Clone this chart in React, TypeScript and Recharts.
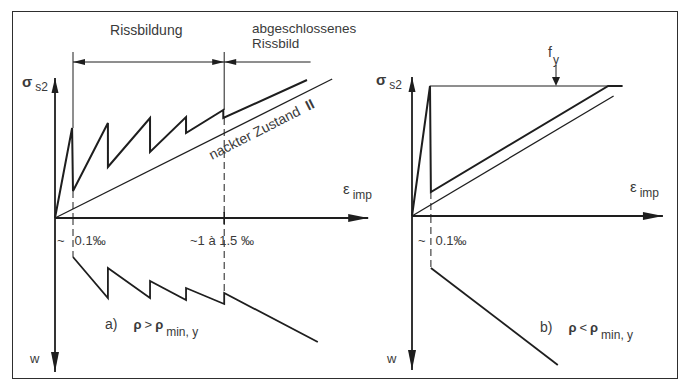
import React from "react";
import {
  Line,
  LineChart,
  ReferenceDot,
  ReferenceLine,
  XAxis,
  YAxis,
} from "recharts";

// a) rho > rho_min,y : steel stress during crack formation
const epsA = [0, 0.095, 0.1, 0.294, 0.294, 0.528, 0.528, 0.728, 0.728, 0.935, 0.935, 1.4];
const sigmaA = [0, 360, 108, 380, 204, 400, 264, 404, 340, 432, 400, 552];
const nakedEpsA = [0, 1.54];
const nakedSigmaA = [0, 556];
// crack width
const wEpsA = [0.1, 0.294, 0.294, 0.528, 0.528, 0.728, 0.728, 0.94, 0.94, 1.46];
const wA = [0.156, 0.32, 0.2, 0.32, 0.252, 0.328, 0.28, 0.344, 0.3, 0.496];
const crackStartA = 0.1;
const crackEndA = 0.94;
const ticksA = ["0.1‰", "~1 à 1.5 ‰"];

// b) rho < rho_min,y : steel yields at the first crack
const epsB = [0, 0.1, 0.105, 1.09, 1.17];
const sigmaB = [0, 520, 96, 520, 520];
const nakedEpsB = [0, 1.12];
const nakedSigmaB = [0, 480];
const wEpsB = [0.105, 0.81];
const wB = [0.208, 0.596];
const crackStartB = 0.105;
const fyB = 520;
const fyMarkEps = 0.8;
const tickB = "0.1‰";

const INK = "#1e1e1e";
const TEXT = "#3a3a3a";
const FONT = "'Liberation Sans', Arial, Helvetica, sans-serif";

const S_DOMAIN: [number, number] = [-640, 880];
const W_DOMAIN: [number, number] = [-0.88, 0.64];

const zip = (e: number[], v: number[], key: string) =>
  e.map((x, i) => ({ e: x, [key]: v[i] }));

type Pt = { cx?: number; cy?: number };

const arrow =
  (dir: "up" | "down" | "left" | "right", len: number, half: number) =>
  (p: Pt) => {
    const x = p.cx ?? 0;
    const y = p.cy ?? 0;
    let pts = "";
    if (dir === "up") pts = `${x},${y} ${x - half},${y + len} ${x + half},${y + len}`;
    if (dir === "down") pts = `${x},${y} ${x - half},${y - len} ${x + half},${y - len}`;
    if (dir === "left") pts = `${x},${y} ${x + len},${y - half} ${x + len},${y + half}`;
    if (dir === "right") pts = `${x},${y} ${x - len},${y - half} ${x - len},${y + half}`;
    return <polygon points={pts} fill={INK} />;
  };

const textAt =
  (node: React.ReactNode, size = 14, extra: React.SVGProps<SVGTextElement> = {}) =>
  (p: Pt) => (
    <text x={p.cx} y={p.cy} fontSize={size} fill={TEXT} fontFamily={FONT} {...extra}>
      {node}
    </text>
  );

const line = { stroke: INK, ifOverflow: "visible" as const };

const sigmaLabel = (
  <>
    <tspan fontWeight="bold" fontSize={15}>σ</tspan>
    <tspan dx={3} dy={4} fontSize={12}>s2</tspan>
  </>
);
const epsLabel = (
  <>
    <tspan fontSize={15}>ε</tspan>
    <tspan dx={3} dy={5} fontSize={12}>imp</tspan>
  </>
);
const rhoLabel = (tag: string, rel: string) => (
  <>
    <tspan>{tag}</tspan>
    <tspan dx={16} fontWeight="bold" fontSize={13}>ρ</tspan>
    <tspan dx={3} fontSize={13}>{rel}</tspan>
    <tspan dx={3} fontWeight="bold" fontSize={13}>ρ</tspan>
    <tspan dx={3} dy={7} fontSize={12}>min, y</tspan>
  </>
);
const tildeTick = (t: string) => (
  <>
    <tspan>~</tspan>
    <tspan dx={10}>{t}</tspan>
  </>
);

export default function App() {
  return (
    <div
      style={{
        position: "absolute",
        left: 0,
        top: 0,
        width: 681,
        height: 382,
        overflow: "hidden",
        background: "#fff",
      }}
    >
      <div
        style={{
          position: "absolute",
          left: 12,
          top: 11,
          width: 666,
          height: 368,
          border: "1.6px solid #2e2e2e",
          boxSizing: "border-box",
        }}
      />

      {/* a) */}
      <div style={{ position: "absolute", left: 1, top: -2 }}>
        <LineChart width={378} height={380} margin={{ top: 0, right: 0, bottom: 0, left: 0 }}>
          <XAxis hide type="number" dataKey="e" domain={[-0.3, 1.8]} allowDataOverflow />
          <YAxis hide yAxisId="s" type="number" domain={S_DOMAIN} allowDataOverflow />
          <YAxis hide yAxisId="w" type="number" domain={W_DOMAIN} reversed allowDataOverflow />

          {/* axes */}
          <ReferenceLine yAxisId="s" {...line} strokeWidth={1.8} segment={[{ x: 0, y: 0 }, { x: 0, y: 560 }]} />
          <ReferenceLine yAxisId="w" {...line} strokeWidth={1.8} segment={[{ x: 0, y: 0 }, { x: 0, y: 0.616 }]} />
          <ReferenceLine yAxisId="s" {...line} strokeWidth={1.8} segment={[{ x: 0, y: 0 }, { x: 1.74, y: 0 }]} />
          <ReferenceDot yAxisId="s" x={0} y={560} shape={arrow("up", 15, 3.5)} />
          <ReferenceDot yAxisId="w" x={0} y={0.616} shape={arrow("down", 20, 4)} />
          <ReferenceDot yAxisId="s" x={1.74} y={0} shape={arrow("right", 20, 4)} />

          {/* crack formation bracket */}
          <ReferenceLine yAxisId="s" {...line} strokeWidth={1} segment={[{ x: crackStartA, y: 624 }, { x: 1.42, y: 624 }]} />
          <ReferenceLine yAxisId="s" {...line} strokeWidth={1} segment={[{ x: crackStartA, y: 664 }, { x: crackStartA, y: 360 }]} />
          <ReferenceLine yAxisId="s" {...line} strokeWidth={1} segment={[{ x: crackEndA, y: 664 }, { x: crackEndA, y: 432 }]} />
          <ReferenceDot yAxisId="s" x={crackStartA} y={624} shape={arrow("left", 12, 3)} />
          <ReferenceDot yAxisId="s" x={crackEndA} y={624} shape={arrow("right", 12, 3)} />
          <ReferenceDot yAxisId="s" x={crackEndA} y={624} shape={arrow("left", 12, 3)} />

          {/* dashed markers */}
          <ReferenceLine yAxisId="s" {...line} strokeWidth={1} strokeDasharray="7 4" segment={[{ x: crackStartA, y: 108 }, { x: crackStartA, y: 0 }]} />
          <ReferenceLine yAxisId="w" {...line} strokeWidth={1} strokeDasharray="7 4" segment={[{ x: crackStartA, y: 0 }, { x: crackStartA, y: 0.156 }]} />
          <ReferenceLine yAxisId="s" {...line} strokeWidth={1} strokeDasharray="7 4" segment={[{ x: crackEndA, y: 400 }, { x: crackEndA, y: 0 }]} />
          <ReferenceLine yAxisId="w" {...line} strokeWidth={1} strokeDasharray="7 4" segment={[{ x: crackEndA, y: 0 }, { x: crackEndA, y: 0.3 }]} />
          <ReferenceLine yAxisId="s" {...line} strokeWidth={1.6} segment={[{ x: crackEndA, y: -24 }, { x: crackEndA, y: 24 }]} />

          <Line yAxisId="s" data={zip(nakedEpsA, nakedSigmaA, "s")} dataKey="s" type="linear" dot={false} activeDot={false} stroke={INK} strokeWidth={1.3} isAnimationActive={false} />
          <Line yAxisId="s" data={zip(epsA, sigmaA, "s")} dataKey="s" type="linear" dot={false} activeDot={false} stroke={INK} strokeWidth={2} isAnimationActive={false} />
          <Line yAxisId="w" data={zip(wEpsA, wA, "w")} dataKey="w" type="linear" dot={false} activeDot={false} stroke={INK} strokeWidth={1.8} isAnimationActive={false} />

          {/* labels */}
          <ReferenceDot yAxisId="s" x={0.306} y={732} shape={textAt("Rissbildung")} />
          <ReferenceDot yAxisId="s" x={1.094} y={740} shape={textAt("abgeschlossenes", 13.5)} />
          <ReferenceDot yAxisId="s" x={1.094} y={680} shape={textAt("Rissbild", 13.5)} />
          <ReferenceDot yAxisId="s" x={-0.183} y={524} shape={textAt(sigmaLabel)} />
          <ReferenceDot yAxisId="s" x={1.6} y={96} shape={textAt(epsLabel)} />
          <ReferenceDot yAxisId="s" x={0.872} y={232} shape={(p: Pt) => (
            <text x={p.cx} y={p.cy} fontSize={14} fill={TEXT} fontFamily={FONT} transform={`rotate(-27 ${p.cx} ${p.cy})`}>
              nackter Zustand <tspan fontWeight="bold" dx={4}>II</tspan>
            </text>
          )} />
          <ReferenceDot yAxisId="w" x={0.011} y={0.108} shape={textAt(tildeTick(ticksA[0]), 13)} />
          <ReferenceDot yAxisId="w" x={0.75} y={0.108} shape={textAt(ticksA[1], 13)} />
          <ReferenceDot yAxisId="w" x={0.278} y={0.444} shape={textAt(rhoLabel("a)", ">"), 14)} />
          <ReferenceDot yAxisId="w" x={-0.139} y={0.58} shape={textAt("w", 13)} />
        </LineChart>
      </div>

      {/* b) */}
      <div style={{ position: "absolute", left: 376, top: -4 }}>
        <LineChart width={306} height={380} margin={{ top: 0, right: 0, bottom: 0, left: 0 }}>
          <XAxis hide type="number" dataKey="e" domain={[-0.2, 1.5]} allowDataOverflow />
          <YAxis hide yAxisId="s" type="number" domain={S_DOMAIN} allowDataOverflow />
          <YAxis hide yAxisId="w" type="number" domain={W_DOMAIN} reversed allowDataOverflow />

          <ReferenceLine yAxisId="s" {...line} strokeWidth={1.8} segment={[{ x: 0, y: 0 }, { x: 0, y: 556 }]} />
          <ReferenceLine yAxisId="w" {...line} strokeWidth={1.8} segment={[{ x: 0, y: 0 }, { x: 0, y: 0.616 }]} />
          <ReferenceLine yAxisId="s" {...line} strokeWidth={1.8} segment={[{ x: 0, y: 0 }, { x: 1.394, y: 0 }]} />
          <ReferenceDot yAxisId="s" x={0} y={556} shape={arrow("up", 15, 3.5)} />
          <ReferenceDot yAxisId="w" x={0} y={0.616} shape={arrow("down", 20, 4)} />
          <ReferenceDot yAxisId="s" x={1.394} y={0} shape={arrow("right", 20, 4)} />

          {/* yield level */}
          <ReferenceLine yAxisId="s" {...line} strokeWidth={1} segment={[{ x: epsB[1], y: fyB }, { x: epsB[3], y: fyB }]} />
          <ReferenceLine yAxisId="s" {...line} strokeWidth={1} segment={[{ x: fyMarkEps, y: 604 }, { x: fyMarkEps, y: 556 }]} />
          <ReferenceDot yAxisId="s" x={fyMarkEps} y={fyB} shape={arrow("down", 9, 4)} />

          <ReferenceLine yAxisId="s" {...line} strokeWidth={1} strokeDasharray="7 4" segment={[{ x: crackStartB, y: 96 }, { x: crackStartB, y: 0 }]} />
          <ReferenceLine yAxisId="w" {...line} strokeWidth={1} strokeDasharray="7 4" segment={[{ x: crackStartB, y: 0 }, { x: crackStartB, y: 0.204 }]} />

          <Line yAxisId="s" data={zip(nakedEpsB, nakedSigmaB, "s")} dataKey="s" type="linear" dot={false} activeDot={false} stroke={INK} strokeWidth={1.3} isAnimationActive={false} />
          <Line yAxisId="s" data={zip(epsB, sigmaB, "s")} dataKey="s" type="linear" dot={false} activeDot={false} stroke={INK} strokeWidth={2} isAnimationActive={false} />
          <Line yAxisId="w" data={zip(wEpsB, wB, "w")} dataKey="w" type="linear" dot={false} activeDot={false} stroke={INK} strokeWidth={1.8} isAnimationActive={false} />

          <ReferenceDot yAxisId="s" x={-0.2} y={524} shape={textAt(sigmaLabel)} />
          <ReferenceDot yAxisId="s" x={0.756} y={636} shape={textAt(<>f<tspan dx={1} dy={7} fontSize={12}>y</tspan></>, 14)} />
          <ReferenceDot yAxisId="s" x={1.211} y={96} shape={textAt(epsLabel)} />
          <ReferenceDot yAxisId="w" x={0.033} y={0.116} shape={textAt(tildeTick(tickB), 13)} />
          <ReferenceDot yAxisId="w" x={0.711} y={0.464} shape={textAt(rhoLabel("b)", "<"), 14)} />
          <ReferenceDot yAxisId="w" x={-0.139} y={0.588} shape={textAt("w", 13)} />
        </LineChart>
      </div>
    </div>
  );
}
